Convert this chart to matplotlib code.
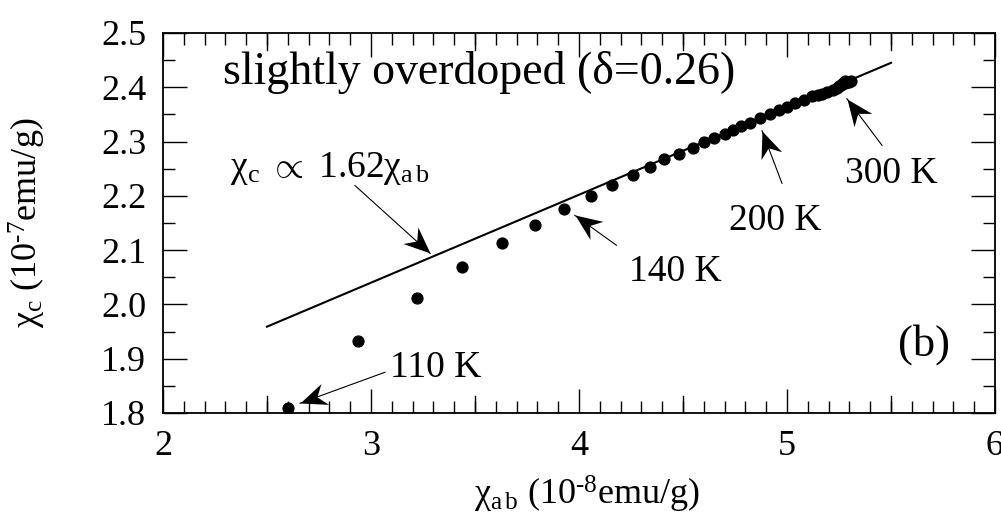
import numpy as np
import matplotlib
matplotlib.use('Agg')
import matplotlib.pyplot as plt
from matplotlib.ticker import MultipleLocator
from matplotlib.path import Path

plt.rcParams['font.family'] = ['Liberation Serif', 'DejaVu Serif']
plt.rcParams['mathtext.fontset'] = 'custom'
plt.rcParams['mathtext.rm'] = 'Liberation Serif'
plt.rcParams['mathtext.it'] = 'Liberation Serif:italic'
plt.rcParams['mathtext.bf'] = 'Liberation Serif:bold'

# chi_ab (1e-8 emu/g) vs chi_c (1e-7 emu/g), 110 K .. 300 K
chi_ab = [2.60, 2.94, 3.22, 3.44, 3.63, 3.79, 3.93, 4.06, 4.16, 4.26,
          4.34, 4.41, 4.48, 4.55, 4.60, 4.65, 4.70, 4.74, 4.78, 4.82,
          4.87, 4.92, 4.96, 5.00, 5.04, 5.08, 5.12, 5.15, 5.17, 5.19,
          5.22, 5.24, 5.25, 5.26, 5.27, 5.28, 5.29, 5.30, 5.31, 5.28]
chi_c = [1.810, 1.932, 2.012, 2.069, 2.113, 2.147, 2.176, 2.199, 2.220, 2.239,
         2.253, 2.267, 2.277, 2.288, 2.299, 2.306, 2.314, 2.322, 2.329, 2.335,
         2.344, 2.351, 2.358, 2.364, 2.371, 2.377, 2.383, 2.386, 2.388, 2.391,
         2.395, 2.399, 2.402, 2.405, 2.407, 2.408, 2.409, 2.410, 2.411, 2.411]

# linear fit chi_c = 0.162 chi_ab + b
fit_slope = 0.162
fit_icpt = 1.554
fit_range = [2.5, 5.5]

# (label, tip, tail, label position)
notes = [
    ('110 K', (2.659, 1.818), (3.067, 1.875), (3.09, 1.883)),
    ('140 K', (3.98, 2.164), (4.18, 2.109), (4.24, 2.06)),
    ('200 K', (4.88, 2.32), (4.976, 2.223), (4.72, 2.155)),
    ('300 K', (5.288, 2.379), (5.457, 2.293), (5.28, 2.24)),
]
fit_note_tip = (3.284, 2.094)
fit_note_tail = (2.923, 2.219)

fig = plt.figure(figsize=(10.01, 5.32), dpi=100)
ax = fig.add_axes([0.1628, 0.2237, 0.8312, 0.7143])
ax.set_xlim(2, 6)
ax.set_ylim(1.8, 2.5)

xf = np.array(fit_range)
ax.plot(xf, fit_slope * xf + fit_icpt, color='black', lw=1.5)
ax.plot(chi_ab, chi_c, 'o', color='black', ms=7.8, mec='black')

ax.xaxis.set_major_locator(MultipleLocator(1))
ax.xaxis.set_minor_locator(MultipleLocator(0.1))
ax.set_yticks(np.arange(1.8, 2.51, 0.1))
ax.set_yticklabels(['%.1f' % v for v in np.arange(1.8, 2.51, 0.1)])
ax.yaxis.set_minor_locator(MultipleLocator(0.05))

# half-unit ticks on x are longer
for xv in [2.5, 3.5, 4.5, 5.5]:
    ax.axvline(xv, ymin=0, ymax=17 / 381, color='black', lw=1.0)
    ax.axvline(xv, ymin=1 - 17 / 381, ymax=1, color='black', lw=1.0)

ax.tick_params(which='both', direction='in', top=True, right=True,
               labelsize=26, width=1.0, pad=12)
ax.tick_params(which='major', length=17)
ax.tick_params(which='minor', length=8.5)
for s in ax.spines.values():
    s.set_linewidth(1.3)

ax.set_xlabel(r'$\mathrm{\chi}_{\rm a\,b}$ (10$^{\text{-8}}$emu/g)', fontsize=26)
ax.set_ylabel(r'$\mathrm{\chi}_{\rm c}$ (10$^{\text{-7}}$emu/g)', fontsize=26)
ax.xaxis.set_label_coords(0.51, -0.16)
ax.yaxis.set_label_coords(-0.138, 0.5)

ax.text(0.072, 0.865, 'slightly overdoped (δ=0.26)', transform=ax.transAxes,
        fontsize=33, va='baseline')
ax.text(0.915, 0.18, '(b)', transform=ax.transAxes, fontsize=32,
        ha='center', va='center')


def arrow(tip, tail, head_pt=19):
    # shaft plus a notched arrowhead turned to the shaft direction
    ax.plot([tail[0], tip[0]], [tail[1], tip[1]], color='black', lw=0.8)
    p0 = ax.transData.transform(tail)
    p1 = ax.transData.transform(tip)
    ang = np.arctan2(p1[1] - p0[1], p1[0] - p0[0])
    head = np.array([(0, 0), (-1, 0.42), (-0.68, 0), (-1, -0.42), (0, 0)])
    rot = np.array([[np.cos(ang), -np.sin(ang)], [np.sin(ang), np.cos(ang)]])
    verts = head @ rot.T
    scale = np.max(np.abs(verts))
    codes = [Path.MOVETO, Path.LINETO, Path.LINETO, Path.LINETO, Path.CLOSEPOLY]
    ax.plot([tip[0]], [tip[1]], marker=Path(verts, codes), ms=2 * head_pt * scale,
            color='black', mew=0)


arrow(fit_note_tip, fit_note_tail)
ax.text(2.32, 2.235, r'$\mathrm{\chi}_{\rm c}$ $\propto$ 1.62$\mathrm{\chi}_{\rm a\,b}$',
        fontsize=27, va='baseline')

for label, tip, tail, pos in notes:
    arrow(tip, tail)
    ax.text(pos[0], pos[1], label, fontsize=27, va='center')

fig.savefig('out.png', dpi=100)
